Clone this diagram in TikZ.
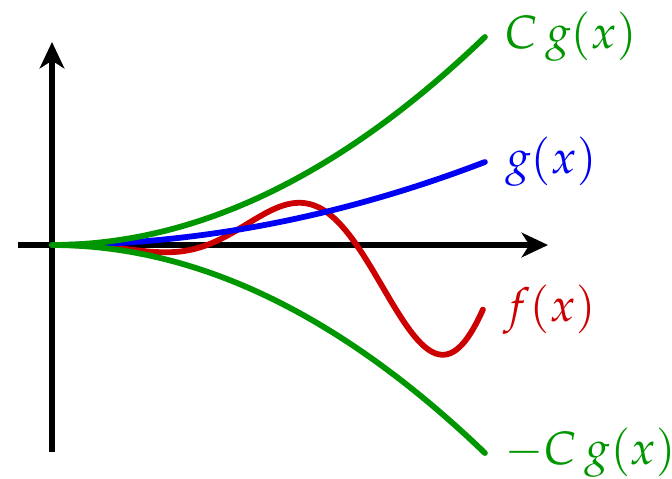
\documentclass[tikz,border=0pt]{standalone}
\usepackage{xcolor}
\usepackage{amsmath}
\usepackage{mathpazo}
\usepackage{tikz}
\usetikzlibrary{arrows.meta, positioning}

\definecolor{boundgreen}{RGB}{0,150,0}
\definecolor{refblue}{RGB}{0,0,245}
\definecolor{funred}{RGB}{204,0,0}

\begin{document}
\begin{tikzpicture}[
    axis/.style={-{Stealth[length=7.5pt, width=7pt, inset=2.2pt]}, line width=1.45pt},
    fncurve/.style={line width=1.65pt, line cap=round},
    fnlabel/.style={right, inner sep=5pt, font=\fontsize{13.3}{16}\selectfont}
]
\useasboundingbox (-0.52,-2.33) rectangle (6.20,2.45);

% Axes
\coordinate (origin) at (0,0);
\coordinate (xstart) at (-0.34,0);
\coordinate (xend) at (4.96,0);
\coordinate (ystart) at (0,-2.07);
\coordinate (yend) at (0,2.03);
\draw[axis] (xstart) -- (xend);
\draw[axis] (ystart) -- (yend);

% f oscillates between the bounds
\draw[fncurve, funred] plot[domain=0:4.31, samples=120, smooth]
    (\x, {0.074*\x*\x*sin(deg(2.1*(\x-1.55)))})
    node[fnlabel, text=funred] (flabel) {$f(x)$};

% g
\draw[fncurve, refblue] plot[domain=0:4.33, samples=60, smooth]
    (\x, {0.0443*\x*\x})
    node[fnlabel, text=refblue] (glabel) {$g(x)$};

% Bounds
\draw[fncurve, boundgreen] plot[domain=0:4.33, samples=60, smooth]
    (\x, {0.111*\x*\x})
    node[fnlabel, text=boundgreen] (upper) {$C\,g(x)$};
\draw[fncurve, boundgreen] plot[domain=0:4.33, samples=60, smooth]
    (\x, {-0.111*\x*\x})
    node[fnlabel, text=boundgreen] (lower) {$-C\,g(x)$};

\end{tikzpicture}
\end{document}
